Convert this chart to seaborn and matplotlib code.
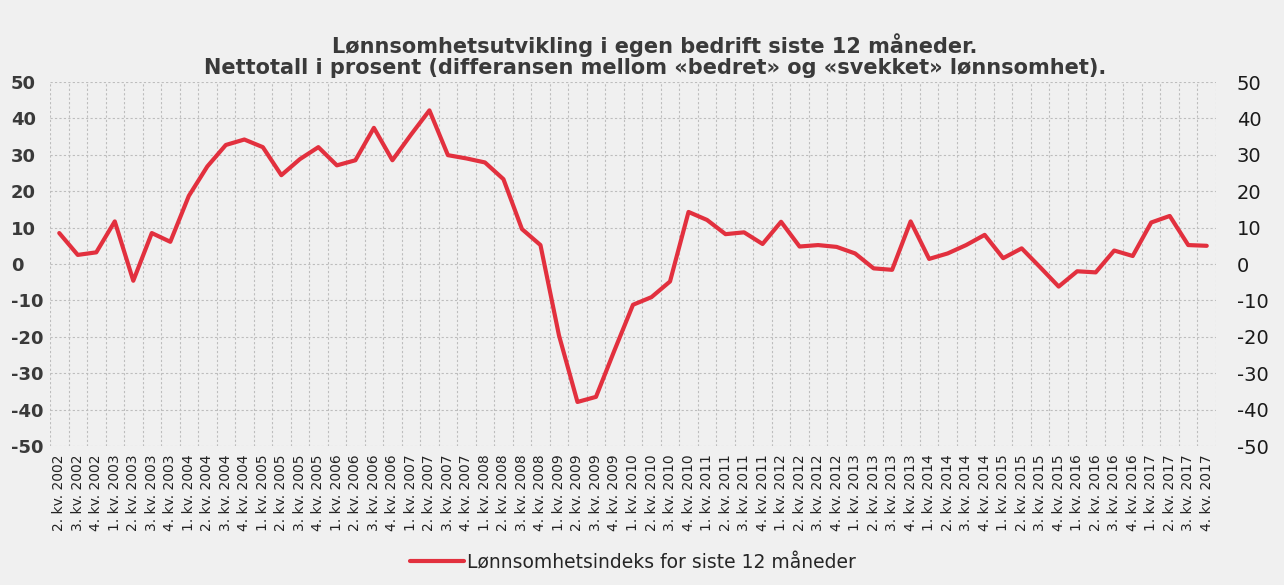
import pandas as pd
import matplotlib.pyplot as plt
import seaborn as sns
import numpy as np

# kvartaler 2. kv. 2002 - 4. kv. 2017
quarters = [f"{q}. kv. {y}" for y in range(2002, 2018) for q in range(1, 5)][1:]
values = [8.5, 2.5, 3.2, 11.7, -4.6, 8.5, 6.1, 18.7, 26.8, 32.7, 34.2,
          32.1, 24.4, 28.8, 32.1, 27.1, 28.5, 37.4, 28.5, 35.5, 42.2,
          29.9, 29.0, 27.9, 23.3, 9.6, 5.2, -19.6, -37.9, -36.5, -23.7,
          -11.2, -9.1, -4.8, 14.3, 12.1, 8.2, 8.7, 5.5, 11.6, 4.8,
          5.2, 4.7, 2.9, -1.2, -1.6, 11.7, 1.4, 2.9, 5.2, 8.0,
          1.6, 4.3, -0.9, -6.2, -2.0, -2.3, 3.7, 2.2, 11.4, 13.2,
          5.2, 5.0]
yticks = list(range(-50, 51, 10))
series_name = "Lønnsomhetsindeks for siste 12 måneder"

df = pd.DataFrame({"pos": np.arange(len(quarters)), "kvartal": quarters, "verdi": values})

sns.set_style("white")
plt.rcParams['font.family'] = ['DejaVu Sans']
bg = "#f0f0f0"

fig = plt.figure(figsize=(12.84, 5.85), dpi=100, facecolor=bg)
ax = fig.add_axes([50/1284, 1-446/585, 1166/1284, 364/585], facecolor=bg)

sns.lineplot(data=df, x="pos", y="verdi", ax=ax, color="#e2303e", lw=3,
             label=series_name)

ax.set_xlim(-0.5, len(quarters) - 0.5)
ax.set_ylim(-50, 50)
ax.set_xticks(df["pos"])
ax.set_xticklabels(quarters, rotation=90, fontsize=10, color="#222222")
ax.set_xticks(np.arange(len(quarters) + 1) - 0.5, minor=True)
ax.tick_params(axis="x", which="both", length=0, pad=6)
ax.set_yticks(yticks)
ax.set_yticklabels([str(t) for t in yticks], fontsize=13, fontweight="bold", color="#3a3a3a")
ax.tick_params(axis="y", length=0, pad=28)
for lab in ax.get_yticklabels():
    lab.set_horizontalalignment("left")
ax.grid(False)
ax.grid(True, axis="y", which="major", ls=(0, (2, 2)), color="#bdbdbd", lw=0.8)
ax.grid(True, axis="x", which="minor", ls=(0, (2, 2)), color="#bdbdbd", lw=0.8)
ax.set_xlabel("")
ax.set_ylabel("")
for s in ax.spines.values():
    s.set_visible(False)

ax2 = ax.twinx()
ax2.set_ylim(-50, 50)
ax2.set_yticks(yticks)
ax2.set_yticklabels([str(t) for t in yticks], fontsize=14, color="#1a1a1a")
ax2.tick_params(axis="y", length=0, pad=15)
for s in ax2.spines.values():
    s.set_visible(False)

fig.text(0.51, 1-45/585, "Lønnsomhetsutvikling i egen bedrift siste 12 måneder.",
         ha="center", va="center", fontsize=15, fontweight="bold", color="#3a3a3a")
fig.text(0.51, 1-68/585, "Nettotall i prosent (differansen mellom «bedret» og «svekket» lønnsomhet).",
         ha="center", va="center", fontsize=15, fontweight="bold", color="#3a3a3a")

ax.legend(loc="center", bbox_to_anchor=(0.5, -0.32), frameon=False, fontsize=13.5,
          handlelength=2.9, handletextpad=0.15)

fig.savefig("out.png", dpi=100, facecolor=bg)
